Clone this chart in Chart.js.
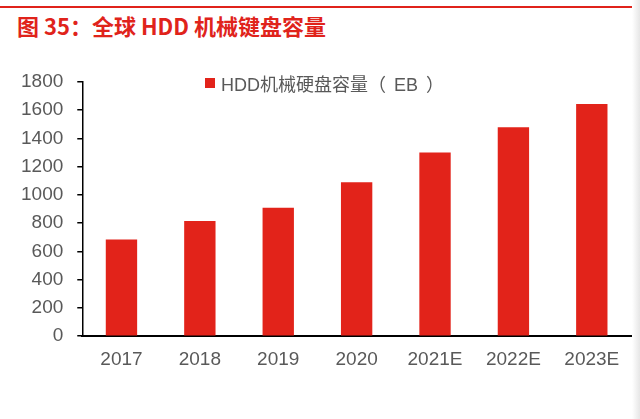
<!DOCTYPE html>
<html>
<head>
<meta charset="utf-8">
<script src="https://cdn.jsdelivr.net/npm/chart.js@4.4.1/dist/chart.umd.min.js"></script>
<style>
  html, body { margin: 0; padding: 0; background: #fff; }
  #wrap { position: relative; width: 640px; height: 419px; overflow: hidden; background: #fff; }
  #topline { position: absolute; left: 0; top: 6px; width: 640px; height: 2px; background: #e0231b; }
  #title { position: absolute; left: 17px; top: 9px; font-family: "Noto Sans CJK SC", "Noto Sans", sans-serif; font-weight: bold; font-size: 22px; color: #e0231b; white-space: nowrap; }
  #legend { position: absolute; left: 205px; top: 70px; font-family: "Liberation Sans", "Noto Sans CJK SC", sans-serif; font-size: 18px; color: #595959; white-space: nowrap; display: flex; align-items: center; word-spacing: 3px; }
  #legend .sw { display: inline-block; width: 10px; height: 10px; background: #e2231a; margin-right: 6px; }
  #edge { position: absolute; right: 0; top: 0; width: 8px; height: 419px; background: linear-gradient(to right, #ffffff, #e6e6e6); }
  canvas { position: absolute; left: 0; top: 0; }
</style>
</head>
<body>
<div id="wrap">
  <div id="topline"></div>
  <div id="title">图 35：全球 HDD 机械键盘容量</div>
  <canvas id="c" width="640" height="419"></canvas>
  <div id="legend"><span class="sw"></span><span id="legendText"></span></div>
  <div id="edge"></div>
</div>
<script>
const categories = ["2017", "2018", "2019", "2020", "2021E", "2022E", "2023E"];
const seriesName = "HDD机械硬盘容量（ EB ）";
const capacityEB = [685, 815, 910, 1090, 1300, 1480, 1645];
const yTicks = [0, 200, 400, 600, 800, 1000, 1200, 1400, 1600, 1800];

document.getElementById('legendText').textContent = seriesName;

const barColor = '#e2231a';
const labelFont = { family: '"Liberation Sans", Arial, sans-serif', size: 19 };

new Chart(document.getElementById('c'), {
  type: 'bar',
  data: {
    labels: categories,
    datasets: [{
      label: seriesName,
      data: capacityEB,
      backgroundColor: barColor,
      borderWidth: 0,
      barPercentage: 0.4,
      categoryPercentage: 1.0
    }]
  },
  options: {
    responsive: false,
    animation: false,
    devicePixelRatio: 1,
    layout: { padding: { left: 7, right: 9, top: 82, bottom: 36 } },
    plugins: { legend: { display: false }, tooltip: { enabled: false } },
    scales: {
      x: {
        grid: { display: false, drawTicks: false },
        border: { display: true, color: '#000', width: 2 },
        ticks: { color: '#595959', font: labelFont, padding: 12, maxRotation: 0 }
      },
      y: {
        min: 0,
        max: 1800,
        afterBuildTicks: (axis) => { axis.ticks = yTicks.map(v => ({ value: v })); },
        grid: { display: true, drawOnChartArea: false, drawTicks: true, tickLength: 5, color: '#000', lineWidth: 1.5 },
        border: { display: true, color: '#000', width: 1.5 },
        ticks: { color: '#595959', font: labelFont, padding: 14, callback: (v) => String(v) }
      }
    }
  }
});
</script>
</body>
</html>
